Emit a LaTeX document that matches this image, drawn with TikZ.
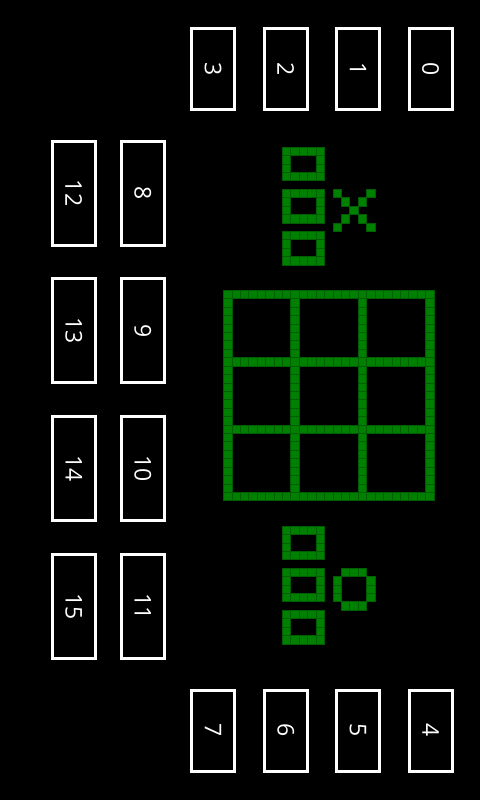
\documentclass[tikz,border=0pt]{standalone}
\usepackage{fontspec}
\setmainfont{Open Sans}
\definecolor{pix}{RGB}{0,128,0}
\definecolor{pixedge}{RGB}{0,92,0}
\newcommand\pixcell[2]{\draw[cell] ({223.4+(#1)*8.42},{290.2+(#2)*8.42}) rectangle ++(8.42,8.42);}
\newcommand\zerosprite[2]{%
  \foreach \k in {0,...,4}{\pixcell{#1+\k}{#2}\pixcell{#1+\k}{#2+3}}%
  \foreach \k in {1,2}{\pixcell{#1}{#2+\k}\pixcell{#1+4}{#2+\k}}}
\begin{document}
\begin{tikzpicture}[x=1pt,y=-1pt,
  card/.style={draw=white,line width=3pt,minimum width=43pt,inner sep=0pt,text=white,font=\fontsize{23}{23}\selectfont},
  tallcard/.style={card,minimum height=104pt},
  shortcard/.style={card,minimum height=81pt},
  cell/.style={fill=pix,draw=pixedge,line width=0.6pt}]
\fill[black] (0,0) rectangle (480,800);
\useasboundingbox (0,0) rectangle (480,800);
% top row
\node[shortcard] (b3) at (213,68.7) {\rotatebox{-90}{3}};
\node[shortcard] (b2) at (285.8,68.7) {\rotatebox{-90}{2}};
\node[shortcard] (b1) at (358,68.7) {\rotatebox{-90}{1}};
\node[shortcard] (b0) at (430.5,68.7) {\rotatebox{-90}{0}};
% bottom row
\node[shortcard] (b7) at (213,730.5) {\rotatebox{-90}{7}};
\node[shortcard] (b6) at (285.8,730.5) {\rotatebox{-90}{6}};
\node[shortcard] (b5) at (358,730.5) {\rotatebox{-90}{5}};
\node[shortcard] (b4) at (430.5,730.5) {\rotatebox{-90}{4}};
% left columns
\node[tallcard] (b12) at (73.8,193) {\rotatebox{-90}{12}};
\node[tallcard] (b13) at (73.8,330.8) {\rotatebox{-90}{13}};
\node[tallcard] (b14) at (73.8,468.8) {\rotatebox{-90}{14}};
\node[tallcard] (b15) at (73.8,606.8) {\rotatebox{-90}{15}};
\node[tallcard] (b8) at (142.8,193) {\rotatebox{-90}{8}};
\node[tallcard] (b9) at (142.8,330.8) {\rotatebox{-90}{9}};
\node[tallcard] (b10) at (142.8,468.8) {\rotatebox{-90}{10}};
\node[tallcard] (b11) at (142.8,606.8) {\rotatebox{-90}{11}};
% board grid
\foreach \i in {0,...,24}{\foreach \j in {0,8,16,24}{\pixcell{\i}{\j}\pixcell{\j}{\i}}}
% score zeros
\zerosprite{7}{-17}
\zerosprite{7}{-12}
\zerosprite{7}{-7}
\zerosprite{7}{28}
\zerosprite{7}{33}
\zerosprite{7}{38}
% X sprite
\foreach \a/\b in {13/-12,17/-12,14/-11,16/-11,15/-10,14/-9,16/-9,13/-8,17/-8}{\pixcell{\a}{\b}}
% O sprite
\foreach \a/\b in {14/33,15/33,16/33,13/34,13/35,13/36,17/34,17/35,17/36,14/37,15/37,16/37}{\pixcell{\a}{\b}}
\end{tikzpicture}
\end{document}
